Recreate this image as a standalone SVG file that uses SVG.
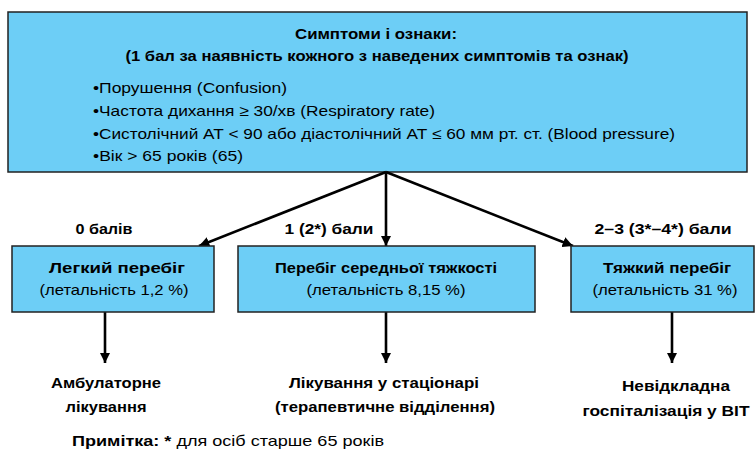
<svg xmlns="http://www.w3.org/2000/svg" width="756" height="452" viewBox="0 0 756 452">
<style>
text{font-family:"Liberation Sans",Arial,sans-serif;fill:#000;font-size:15px}
.b{font-weight:bold}
.box{fill:#6DCEF6;stroke:#222;stroke-width:1.5}
.con{stroke:#000;stroke-width:2.6;fill:none}
</style>
<defs>
<marker id="ah" viewBox="0 0 10 10" refX="10" refY="5" markerWidth="4" markerHeight="4" markerUnits="strokeWidth" orient="auto">
<path d="M0,0 L10,5 L0,10 z" fill="#000"/>
</marker>
</defs>
<rect width="756" height="452" fill="#fff"/>
<g id="top">
<rect class="box" x="8" y="12" width="739" height="160"/>
<text class="b" x="376" y="39" text-anchor="middle" textLength="162" lengthAdjust="spacingAndGlyphs">Симптоми і ознаки:</text>
<text class="b" x="377" y="61" text-anchor="middle" textLength="503" lengthAdjust="spacingAndGlyphs">(1 бал за наявність кожного з наведених симптомів та ознак)</text>
<text x="93" y="93" textLength="194" lengthAdjust="spacingAndGlyphs">•Порушення (Confusion)</text>
<text x="93" y="116" textLength="342" lengthAdjust="spacingAndGlyphs">•Частота дихання ≥ 30/хв (Respiratory rate)</text>
<text x="93" y="139" textLength="582" lengthAdjust="spacingAndGlyphs">•Систолічний АТ &lt; 90 або діастолічний АТ ≤ 60 мм рт. ст. (Blood pressure)</text>
<text x="93" y="161" textLength="150" lengthAdjust="spacingAndGlyphs">•Вік &gt; 65 років (65)</text>
</g>
<g id="connectors">
<line class="con" x1="386" y1="172" x2="199" y2="246" marker-end="url(#ah)"/>
<line class="con" x1="386" y1="172" x2="386" y2="246" marker-end="url(#ah)"/>
<line class="con" x1="386" y1="172" x2="573" y2="246" marker-end="url(#ah)"/>
<line class="con" x1="105" y1="312" x2="105" y2="363" marker-end="url(#ah)"/>
<line class="con" x1="386" y1="312" x2="386" y2="363" marker-end="url(#ah)"/>
<line class="con" x1="672" y1="312" x2="672" y2="363" marker-end="url(#ah)"/>
</g>
<g id="lbl0"><text class="b" x="104" y="234" text-anchor="middle" textLength="57" lengthAdjust="spacingAndGlyphs">0 балів</text></g>
<g id="lbl1"><text class="b" x="329" y="234" text-anchor="middle" textLength="89" lengthAdjust="spacingAndGlyphs">1 (2*) бали</text></g>
<g id="lbl2"><text class="b" x="663" y="234" text-anchor="middle" textLength="137" lengthAdjust="spacingAndGlyphs">2–3 (3*–4*) бали</text></g>
<g id="mild">
<rect class="box" x="12" y="246" width="202" height="66"/>
<text class="b" x="117" y="273" text-anchor="middle" textLength="136" lengthAdjust="spacingAndGlyphs">Легкий перебіг</text>
<text x="114" y="295" text-anchor="middle" textLength="149" lengthAdjust="spacingAndGlyphs">(летальність 1,2 %)</text>
</g>
<g id="moderate">
<rect class="box" x="238" y="246" width="297" height="66"/>
<text class="b" x="386" y="273" text-anchor="middle" textLength="222" lengthAdjust="spacingAndGlyphs">Перебіг середньої тяжкості</text>
<text x="386" y="295" text-anchor="middle" textLength="159" lengthAdjust="spacingAndGlyphs">(летальність 8,15 %)</text>
</g>
<g id="severe">
<rect class="box" x="571" y="246" width="183" height="66"/>
<text class="b" x="667" y="273" text-anchor="middle" textLength="128" lengthAdjust="spacingAndGlyphs">Тяжкий перебіг</text>
<text x="665" y="295" text-anchor="middle" textLength="145" lengthAdjust="spacingAndGlyphs">(летальність 31 %)</text>
</g>
<g id="out1">
<text class="b" x="106" y="388" text-anchor="middle" textLength="110" lengthAdjust="spacingAndGlyphs">Амбулаторне</text>
<text class="b" x="106" y="412" text-anchor="middle" textLength="81" lengthAdjust="spacingAndGlyphs">лікування</text>
</g>
<g id="out2">
<text class="b" x="384" y="388" text-anchor="middle" textLength="190" lengthAdjust="spacingAndGlyphs">Лікування у стаціонарі</text>
<text class="b" x="385" y="412" text-anchor="middle" textLength="220" lengthAdjust="spacingAndGlyphs">(терапевтичне відділення)</text>
</g>
<g id="out3">
<text class="b" x="676" y="391" text-anchor="middle" textLength="108" lengthAdjust="spacingAndGlyphs">Невідкладна</text>
<text class="b" x="666" y="416" text-anchor="middle" textLength="167" lengthAdjust="spacingAndGlyphs">госпіталізація у ВІТ</text>
</g>
<g id="note">
<text x="72" y="446" textLength="312" lengthAdjust="spacingAndGlyphs"><tspan class="b">Примітка: *</tspan> для осіб старше 65 років</text>
</g>
</svg>
